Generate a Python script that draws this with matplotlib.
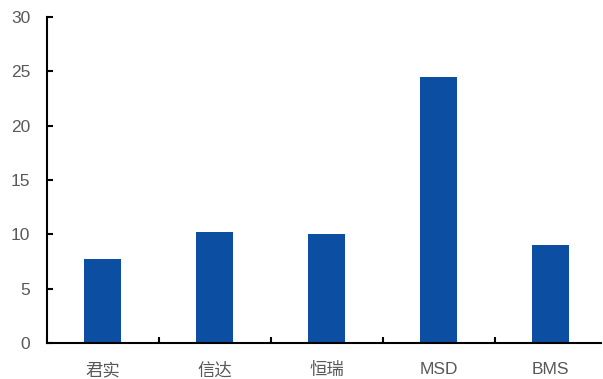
import matplotlib.pyplot as plt
import numpy as np

categories = ['君实', '信达', '恒瑞', 'MSD', 'BMS']
values = [7.75, 10.2, 10.05, 24.5, 9.0]

plt.rcParams['font.family'] = ['Liberation Sans', 'Noto Sans CJK SC']

fig = plt.figure(figsize=(6.03, 3.79), dpi=100)
ax = fig.add_axes([47 / 603, 1 - 343 / 379, (601 - 47) / 603, (343 - 17) / 379])

x = np.arange(len(categories))
ax.bar(x, values, width=0.33, color='#0c4ea2')

ax.set_ylim(0, 30)
ax.set_yticks(np.arange(0, 31, 5))
ax.set_xlim(-0.5, 4.45)
ax.set_xticks(x)
ax.set_xticklabels(categories)
ax.set_xticks(x[:-1] + 0.5, minor=True)

for s in ['top', 'right']:
    ax.spines[s].set_visible(False)
for s in ['left', 'bottom']:
    ax.spines[s].set_linewidth(1.5)

ax.tick_params(axis='y', direction='in', length=4, width=1.5, labelsize=12.5,
               labelcolor='#595959', pad=12)
ax.tick_params(axis='x', which='major', length=0, labelsize=12.5,
               labelcolor='#595959', pad=14)
ax.tick_params(axis='x', which='minor', direction='in', length=4, width=1.5)

fig.savefig('out.png', dpi=100)
